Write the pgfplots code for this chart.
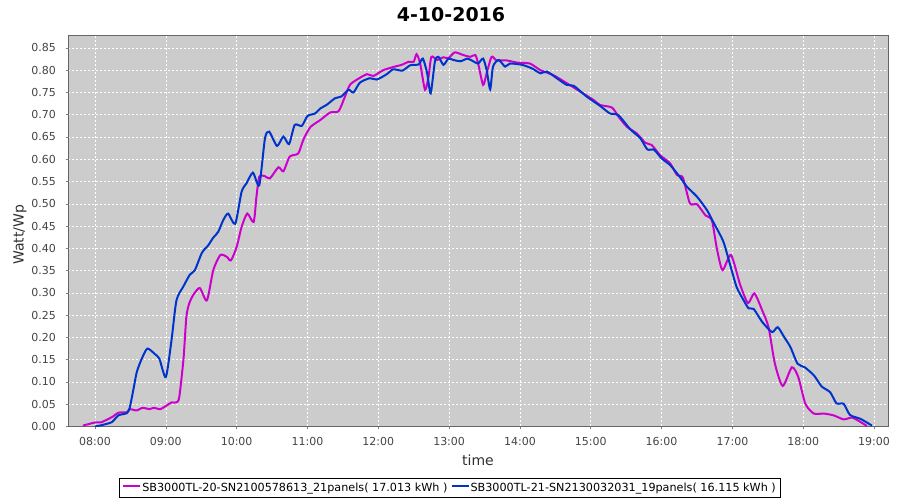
\documentclass[border=0pt]{standalone}
\usepackage{fontspec}
\setmainfont{DejaVu Sans}
\usepackage{pgfplots}
\pgfplotsset{compat=1.18}
\definecolor{bgray}{HTML}{CCCCCC}
\definecolor{magline}{HTML}{CC00CC}
\definecolor{blueline}{HTML}{0033CC}
\definecolor{tickgray}{HTML}{444444}
\newcommand{\legline}[1]{\textcolor{#1}{\rule[0.32em]{17pt}{2pt}}\hspace{2pt}}
\begin{document}
\begin{tikzpicture}[x=1pt,y=1pt]
\useasboundingbox (0,0) rectangle (900,500);
\begin{axis}[
  scale only axis,
  width=820pt, height=391.5pt,
  at={(68pt,73.5pt)}, anchor=south west,
  xmin=7.619, xmax=19.197,
  ymin=0, ymax=0.879,
  axis background/.style={fill=bgray},
  axis line style={draw=gray!80!black, line width=0.8pt},
  xtick={8,9,10,11,12,13,14,15,16,17,18,19},
  xticklabels={08:00,09:00,10:00,11:00,12:00,13:00,14:00,15:00,16:00,17:00,18:00,19:00},
  ytick={0,0.05,...,0.86},
  yticklabel={\pgfmathprintnumber[fixed,fixed zerofill,precision=2]{\tick}},
  /pgf/number format/assume math mode=true,
  tick align=outside, tick pos=left,
  major tick length=2.5pt,
  tick style={draw=gray, line width=0.6pt},
  ticklabel style={font=\fontsize{11}{13}\selectfont, text=tickgray},
  xticklabel style={yshift=-5pt},
  yticklabel style={xshift=-6pt},
  grid=major,
  major grid style={draw=white, line width=0.6pt, dash pattern=on 2pt off 2pt},
  xlabel={time},
  ylabel={Watt/Wp},
  label style={font=\fontsize{14}{16}\selectfont, text=tickgray!70!black},
  xlabel style={at={(axis description cs:0.5,0)}, anchor=center, yshift=-33.5pt},
  ylabel style={at={(axis description cs:-0.0585,0.49)}, anchor=center},
  title={\textbf{4-10-2016}},
  title style={font=\fontsize{19}{22}\selectfont, at={(axis description cs:0.5,1)}, anchor=base, yshift=7pt, xshift=-27pt},
  legend columns=2,
  legend style={at={(axis description cs:0.4653,-0.156)}, anchor=center, draw=black, fill=white,
    font=\fontsize{11.2}{13}\selectfont, inner sep=2.2pt, row sep=0pt,
    /tikz/every even column/.append style={column sep=0pt},
    /tikz/every odd column/.append style={column sep=0pt}},
  legend image code/.code={},
]
\addplot[color=magline, line width=2pt, smooth, tension=0.4] coordinates {
(7.83,0.002)(8.00,0.009)(8.08,0.009)(8.165,0.015)(8.25,0.022)(8.33,0.031)(8.45,0.032)(8.49,0.039)
(8.59,0.036)(8.67,0.042)(8.77,0.039)(8.83,0.042)(8.92,0.039)(9.01,0.047)(9.08,0.054)(9.15,0.054)
(9.19,0.066)(9.25,0.152)(9.29,0.246)(9.33,0.276)(9.39,0.296)(9.48,0.311)(9.58,0.283)(9.67,0.351)
(9.77,0.385)(9.86,0.381)(9.92,0.373)(10.00,0.403)(10.07,0.448)(10.15,0.478)(10.24,0.459)(10.28,0.516)
(10.32,0.561)(10.40,0.562)(10.47,0.557)(10.59,0.582)(10.66,0.573)(10.75,0.606)(10.87,0.613)(10.94,0.643)
(11.04,0.672)(11.18,0.688)(11.32,0.705)(11.44,0.708)(11.53,0.741)(11.60,0.767)(11.70,0.779)(11.84,0.791)
(11.93,0.787)(12.07,0.800)(12.21,0.807)(12.33,0.812)(12.43,0.819)(12.50,0.819)(12.54,0.836)(12.59,0.816)
(12.66,0.756)(12.71,0.786)(12.75,0.830)(12.83,0.823)(12.92,0.829)(12.99,0.827)(13.08,0.840)(13.20,0.834)
(13.30,0.830)(13.37,0.834)(13.41,0.815)(13.48,0.767)(13.53,0.793)(13.60,0.830)(13.67,0.822)(13.81,0.822)
(13.96,0.817)(14.14,0.815)(14.29,0.800)(14.47,0.789)(14.66,0.771)(14.85,0.752)(15.04,0.733)(15.13,0.722)
(15.30,0.716)(15.39,0.696)(15.51,0.673)(15.65,0.658)(15.77,0.637)(15.86,0.632)(15.98,0.609)(16.12,0.591)
(16.22,0.564)(16.30,0.559)(16.40,0.501)(16.50,0.499)(16.62,0.474)(16.71,0.463)(16.78,0.400)(16.86,0.351)
(16.98,0.385)(17.11,0.318)(17.22,0.277)(17.31,0.299)(17.42,0.261)(17.51,0.223)(17.60,0.141)(17.71,0.091)
(17.84,0.133)(17.93,0.111)(18.03,0.051)(18.15,0.029)(18.29,0.029)(18.43,0.025)(18.57,0.016)(18.69,0.020)
(18.81,0.010)(18.90,0.001)
};
\addlegendentry{\legline{magline}SB3000TL-20-SN2100578613\_21panels( 17.013 kWh )\hspace{3pt}}
\addplot[color=blueline, line width=2pt, smooth, tension=0.4] coordinates {
(8.00,0.000)(8.12,0.004)(8.24,0.010)(8.33,0.025)(8.45,0.030)(8.49,0.042)(8.54,0.081)(8.59,0.122)
(8.66,0.152)(8.74,0.175)(8.85,0.162)(8.91,0.152)(9.00,0.111)(9.08,0.193)(9.15,0.283)(9.25,0.315)
(9.34,0.341)(9.41,0.351)(9.51,0.390)(9.60,0.407)(9.67,0.424)(9.74,0.437)(9.81,0.463)(9.88,0.478)
(9.98,0.455)(10.07,0.527)(10.14,0.546)(10.23,0.570)(10.32,0.542)(10.40,0.647)(10.46,0.662)(10.57,0.630)
(10.66,0.651)(10.74,0.634)(10.82,0.677)(10.92,0.675)(11.00,0.697)(11.11,0.703)(11.18,0.714)(11.27,0.722)
(11.39,0.737)(11.48,0.741)(11.58,0.756)(11.65,0.750)(11.74,0.772)(11.88,0.782)(11.98,0.779)(12.12,0.791)
(12.21,0.802)(12.34,0.799)(12.45,0.811)(12.57,0.813)(12.63,0.826)(12.69,0.793)(12.74,0.748)(12.80,0.820)
(12.85,0.830)(12.92,0.812)(12.99,0.826)(13.06,0.823)(13.16,0.820)(13.26,0.826)(13.34,0.820)(13.41,0.815)
(13.48,0.826)(13.53,0.800)(13.58,0.757)(13.62,0.808)(13.70,0.823)(13.79,0.808)(13.86,0.815)(14.03,0.812)
(14.17,0.804)(14.29,0.793)(14.38,0.797)(14.52,0.782)(14.66,0.767)(14.76,0.765)(14.94,0.741)(15.13,0.720)
(15.27,0.703)(15.39,0.699)(15.56,0.667)(15.70,0.647)(15.80,0.622)(15.89,0.622)(16.00,0.602)(16.12,0.587)
(16.24,0.564)(16.36,0.538)(16.50,0.516)(16.64,0.486)(16.73,0.459)(16.87,0.416)(16.97,0.362)(17.06,0.313)
(17.16,0.283)(17.23,0.265)(17.30,0.264)(17.42,0.235)(17.56,0.212)(17.64,0.223)(17.73,0.201)(17.82,0.178)
(17.92,0.141)(18.02,0.133)(18.15,0.115)(18.26,0.090)(18.38,0.077)(18.47,0.052)(18.57,0.051)(18.66,0.026)
(18.81,0.017)(18.97,0.002)
};
\addlegendentry{\legline{blueline}SB3000TL-21-SN2130032031\_19panels( 16.115 kWh )}
\end{axis}
\end{tikzpicture}
\end{document}
